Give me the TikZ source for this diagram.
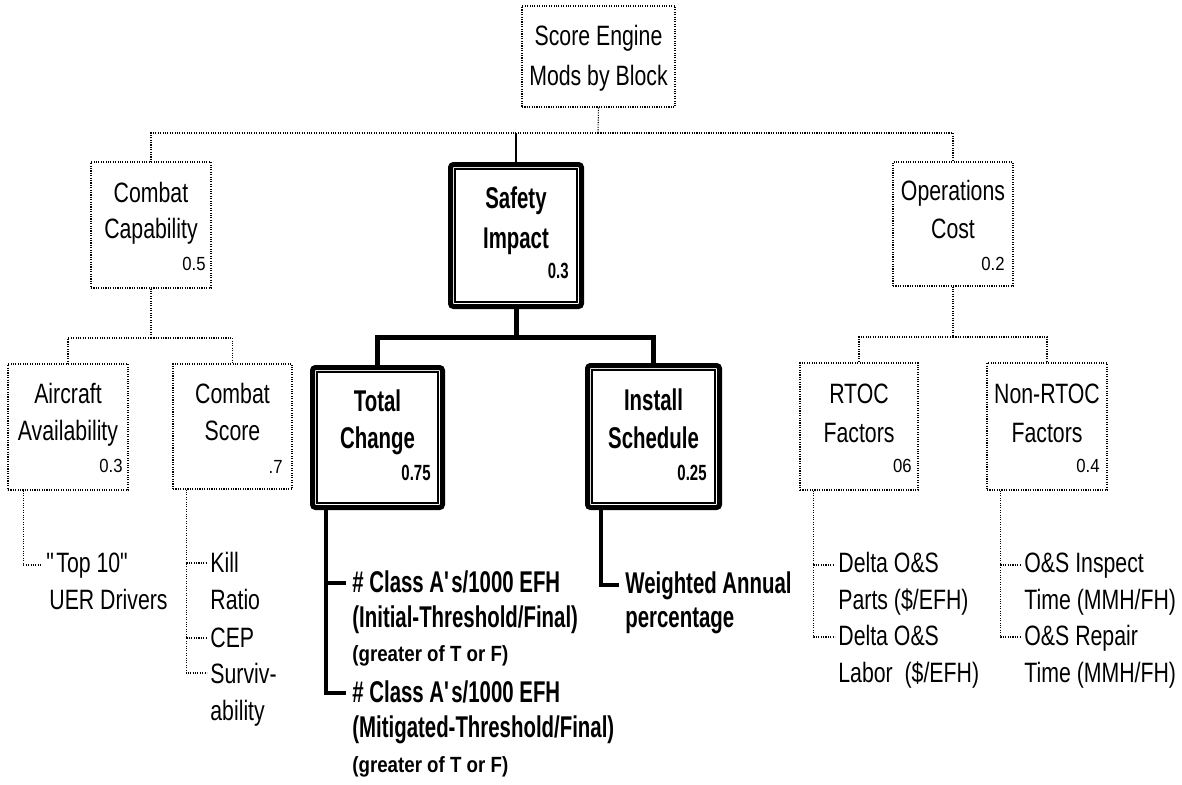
\documentclass[tikz,border=0pt]{standalone}
\usepackage{fontspec}
\setmainfont{Liberation Sans}[FakeStretch=0.76]
\newfontfamily\bff{Liberation Sans}[FakeStretch=0.68]
\newfontfamily\bffw{Liberation Sans}[FakeStretch=0.85]
\newfontfamily\nf{Liberation Sans}[FakeStretch=0.88]
\begin{document}
\begin{tikzpicture}[x=0.5pt,y=-0.5pt,
  dotline/.style={line width=0.55pt, dash pattern=on 0.55pt off 0.65pt},
  dotbox/.style={draw, dotline, inner sep=0pt},
  dblbox/.style={draw, line width=2.5pt, rounded corners=1.5pt, inner sep=0pt},
  innerline/.style={line width=0.8pt},
  thk/.style={line width=2.5pt},
  leafthk/.style={line width=2pt},
  lbl/.style={inner sep=0pt, anchor=base, font=\fontsize{14}{16}\selectfont},
  blbl/.style={inner sep=0pt, anchor=base, font=\bff\bfseries\fontsize{15}{17}\selectfont},
  num/.style={inner sep=0pt, anchor=base east, font=\nf\fontsize{9.5}{11}\selectfont},
  bnum/.style={inner sep=0pt, anchor=base east, font=\bff\bfseries\fontsize{11}{13}\selectfont},
  leaf/.style={inner sep=0pt, anchor=base west, font=\fontsize{14}{16}\selectfont},
  bleaf/.style={inner sep=0pt, anchor=base west, font=\bff\bfseries\fontsize{15}{17}\selectfont},
  bsmall/.style={inner sep=0pt, anchor=base west, font=\bffw\bfseries\fontsize{11}{13}\selectfont}
]
\useasboundingbox (0,0) rectangle (1182,784);

% ---------- boxes ----------
\node[dotbox, minimum width=76.5pt, minimum height=50.5pt] (top) at (598.5,56.5) {};
\node[dotbox, minimum width=60pt, minimum height=63pt] (cc) at (151,225) {};
\node[dblbox, minimum width=65.5pt, minimum height=71pt] (sf) at (516,235.5) {};
\node[dotbox, minimum width=60pt, minimum height=62pt] (oc) at (953,224) {};
\node[dotbox, minimum width=60pt, minimum height=63pt] (aa) at (68,427) {};
\node[dotbox, minimum width=59.5pt, minimum height=62.5pt] (cs) at (232.5,426.5) {};
\node[dblbox, minimum width=65pt, minimum height=70pt] (tc) at (377.5,437.5) {};
\node[dblbox, minimum width=66pt, minimum height=71pt] (is) at (653.5,436.5) {};
\node[dotbox, minimum width=59pt, minimum height=63.5pt] (rt) at (859,426.5) {};
\node[dotbox, minimum width=60pt, minimum height=63.5pt] (nr) at (1047,426.5) {};

% inner lines of the double boxes
\foreach \b in {sf,tc,is}{
  \draw[innerline] ([shift={(3.6pt,-3.6pt)}]\b.north west) rectangle ([shift={(-3.6pt,3.6pt)}]\b.south east);
}

% ---------- box texts ----------
\node[lbl] (top-a) at (598.5,45) {Score Engine};
\node[lbl] (top-b) at (598.5,85) {Mods by Block};

\node[lbl] (cc-a) at (151,202) {Combat};
\node[lbl] (cc-b) at (151,238) {Capability};
\node[num] (cc-n) at (206,270) {0.5};

\node[blbl] (sf-a) at (516,208) {Safety};
\node[blbl] (sf-b) at (516,248) {Impact};
\node[bnum] (sf-n) at (569,278) {0.3};

\node[lbl] (oc-a) at (953,200) {Operations};
\node[lbl] (oc-b) at (953,238) {Cost};
\node[num] (oc-n) at (1005,270) {0.2};

\node[lbl] (aa-a) at (68,403) {Aircraft};
\node[lbl] (aa-b) at (68,440) {Availability};
\node[num] (aa-n) at (123,472) {0.3};

\node[lbl] (cs-a) at (232.5,403) {Combat};
\node[lbl] (cs-b) at (232.5,440) {Score};
\node[num] (cs-n) at (283,473) {.7};

\node[blbl] (tc-a) at (377.5,411) {Total};
\node[blbl] (tc-b) at (377.5,448) {Change};
\node[bnum] (tc-n) at (431,480) {0.75};

\node[blbl] (is-a) at (653.5,410) {Install};
\node[blbl] (is-b) at (653.5,448) {Schedule};
\node[bnum] (is-n) at (707,480) {0.25};

\node[lbl] (rt-a) at (859,403) {RTOC};
\node[lbl] (rt-b) at (859,442) {Factors};
\node[num] (rt-n) at (912,472) {06};

\node[lbl] (nr-a) at (1047,403) {Non-RTOC};
\node[lbl] (nr-b) at (1047,442) {Factors};
\node[num] (nr-n) at (1100,472) {0.4};

% ---------- tree connectors ----------
\coordinate (bus) at (598,133);
\draw[dotline] (top.south) -- (bus);
\draw[dotline] (bus) -| (cc.north);
\draw[dotline] (bus) -| (oc.north);
\draw[line width=0.8pt] (sf.north) -- (sf.north |- bus);

\coordinate (ccbus) at (151,338);
\draw[dotline] (cc.south) -- (ccbus);
\draw[dotline] (ccbus) -| (aa.north);
\draw[dotline] (ccbus) -| (cs.north);

\coordinate (sfbus) at (516,337);
\draw[thk] (sf.south) -- (sfbus);
\draw[thk] (sfbus) -| (tc.north);
\draw[thk] (sfbus) -| (is.north);

\coordinate (ocbus) at (953,337);
\draw[dotline] (oc.south) -- (ocbus);
\draw[dotline] (ocbus) -| (rt.north);
\draw[dotline] (ocbus) -| (nr.north);

% ---------- leaves: Aircraft Availability ----------
\coordinate (aax) at ([xshift=8pt]aa.south west);
\coordinate (aa1) at (42,565);
\draw[dotline] (aax) |- (aa1);
\node[leaf] (aa-l1) at (46,572) {\textquotedbl Top 10\textquotedbl};
\node[leaf] (aa-l2) at (49,609) {UER Drivers};

% ---------- leaves: Combat Score ----------
\coordinate (csx) at ([xshift=7pt]cs.south west);
\coordinate (cs1) at (207,563);
\coordinate (cs2) at (207,638);
\coordinate (cs3) at (207,673);
\draw[dotline] (csx) |- (cs3);
\draw[dotline] (cs1 -| csx) -- (cs1);
\draw[dotline] (cs2 -| csx) -- (cs2);
\node[leaf] (cs-l1) at (210,572) {Kill};
\node[leaf] (cs-l2) at (210,609) {Ratio};
\node[leaf] (cs-l3) at (210,647) {CEP};
\node[leaf] (cs-l4) at (210,683) {Surviv-};
\node[leaf] (cs-l5) at (210,720) {ability};

% ---------- leaves: Total Change ----------
\coordinate (tcx) at ([xshift=7.75pt]tc.south west);
\coordinate (tc1) at (346,583);
\coordinate (tc2) at (346,693);
\draw[leafthk] (tcx) |- (tc2);
\draw[leafthk] (tc1 -| tcx) -- (tc1);
\node[bleaf] (tc-l1) at (352,592) {\# Class A\textquotesingle s/1000 EFH};
\node[bleaf] (tc-l2) at (352,627) {(Initial-Threshold/Final)};
\node[bsmall] (tc-l3) at (352,661) {(greater of T or F)};
\node[bleaf] (tc-l4) at (352,702) {\# Class A\textquotesingle s/1000 EFH};
\node[bleaf] (tc-l5) at (352,737) {(Mitigated-Threshold/Final)};
\node[bsmall] (tc-l6) at (352,772) {(greater of T or F)};

% ---------- leaves: Install Schedule ----------
\coordinate (isx) at ([xshift=7.75pt]is.south west);
\coordinate (is1) at (619,585);
\draw[leafthk] (isx) |- (is1);
\node[bleaf] (is-l1) at (625,593) {Weighted Annual};
\node[bleaf] (is-l2) at (625,627) {percentage};

% ---------- leaves: RTOC Factors ----------
\coordinate (rtx) at ([xshift=7pt]rt.south west);
\coordinate (rt1) at (835,565);
\coordinate (rt2) at (835,637);
\draw[dotline] (rtx) |- (rt2);
\draw[dotline] (rt1 -| rtx) -- (rt1);
\node[leaf] (rt-l1) at (838,572) {Delta O\&S};
\node[leaf] (rt-l2) at (838,609) {Parts (\$/EFH)};
\node[leaf] (rt-l3) at (838,645) {Delta O\&S};
\node[leaf] (rt-l4) at (838,682) {Labor~~(\$/EFH)};

% ---------- leaves: Non-RTOC Factors ----------
\coordinate (nrx) at ([xshift=7pt]nr.south west);
\coordinate (nr1) at (1020,565);
\coordinate (nr2) at (1020,637);
\draw[dotline] (nrx) |- (nr2);
\draw[dotline] (nr1 -| nrx) -- (nr1);
\node[leaf] (nr-l1) at (1024,572) {O\&S Inspect};
\node[leaf] (nr-l2) at (1024,609) {Time (MMH/FH)};
\node[leaf] (nr-l3) at (1024,645) {O\&S Repair};
\node[leaf] (nr-l4) at (1024,682) {Time (MMH/FH)};
\end{tikzpicture}
\end{document}
